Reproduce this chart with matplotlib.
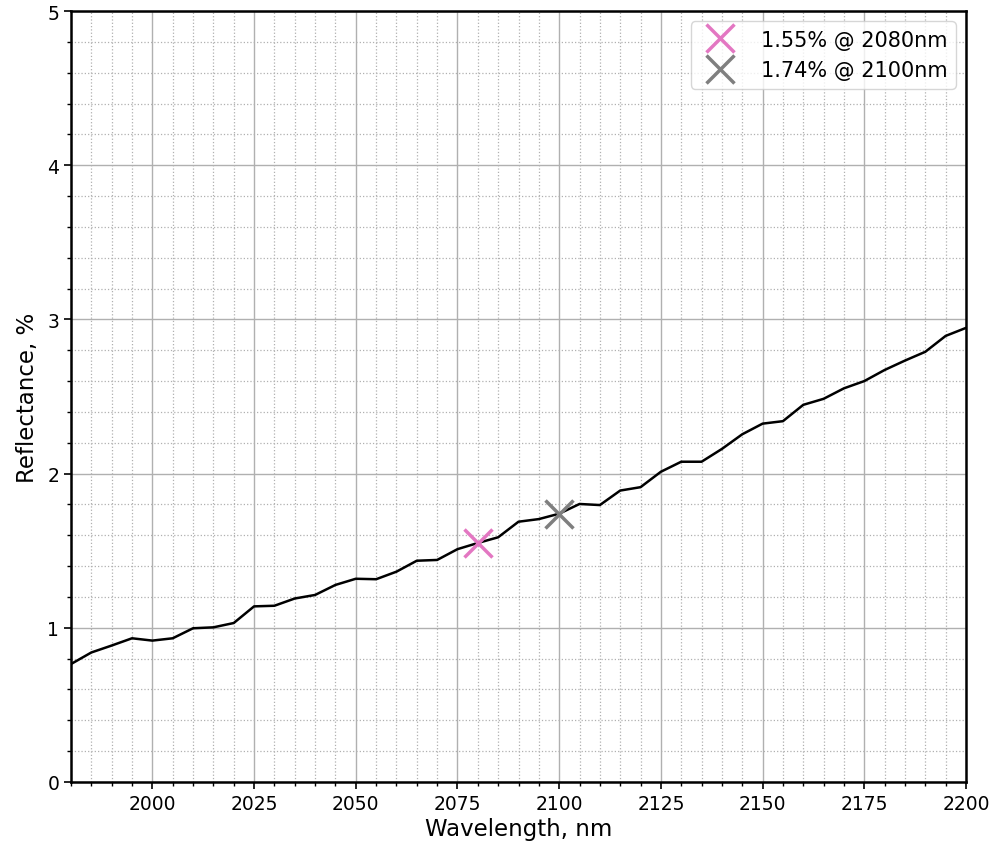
import matplotlib
matplotlib.use("Agg")
import matplotlib.pyplot as plt
from matplotlib.ticker import MultipleLocator

wavelength = list(range(1980, 2201, 5))
reflectance = [0.765, 0.84, 0.885, 0.932, 0.917, 0.932, 0.997, 1.003, 1.031, 1.139,
               1.143, 1.19, 1.213, 1.278, 1.318, 1.315, 1.364, 1.435, 1.44, 1.51,
               1.55, 1.587, 1.688, 1.705, 1.74, 1.803, 1.796, 1.89, 1.912, 2.012,
               2.077, 2.077, 2.16, 2.255, 2.324, 2.34, 2.446, 2.485, 2.553, 2.60,
               2.672, 2.733, 2.79, 2.893, 2.945]
markers_x = [2080, 2100]
markers_y = [1.55, 1.74]
marker_colors = ["#e377c2", "#7f7f7f"]
marker_labels = ["1.55% @ 2080nm", "1.74% @ 2100nm"]

fig = plt.figure(figsize=(9.92, 8.45), dpi=100)
ax = fig.add_axes([71/992, 1-783/845, (966-71)/992, (783-12)/845])
ax.plot(wavelength, reflectance, color="black", lw=1.8)
for x, y, c, l in zip(markers_x, markers_y, marker_colors, marker_labels):
    ax.plot([x], [y], marker="x", ls="none", color=c, markersize=20, mew=2.5, label=l)

ax.set_xlim(1980, 2200)
ax.set_ylim(0, 5)
ax.xaxis.set_major_locator(MultipleLocator(25))
ax.xaxis.set_minor_locator(MultipleLocator(5))
ax.yaxis.set_major_locator(MultipleLocator(1))
ax.yaxis.set_minor_locator(MultipleLocator(0.2))
ax.grid(which="major", color="#b0b0b0", lw=1.0)
ax.grid(which="minor", color="#b0b0b0", ls=":", lw=0.9)
ax.set_axisbelow(True)
for s in ax.spines.values():
    s.set_linewidth(1.8)
ax.tick_params(which="major", labelsize=13.5, width=1.2, length=5)
ax.tick_params(which="minor", width=1.0, length=3)
ax.set_xlabel("Wavelength, nm", fontsize=16.5, labelpad=3)
ax.set_ylabel("Reflectance, %", fontsize=16.5, labelpad=6)
ax.legend(loc="upper right", fontsize=15, handletextpad=0.95)
fig.savefig("out.png", dpi=100)
